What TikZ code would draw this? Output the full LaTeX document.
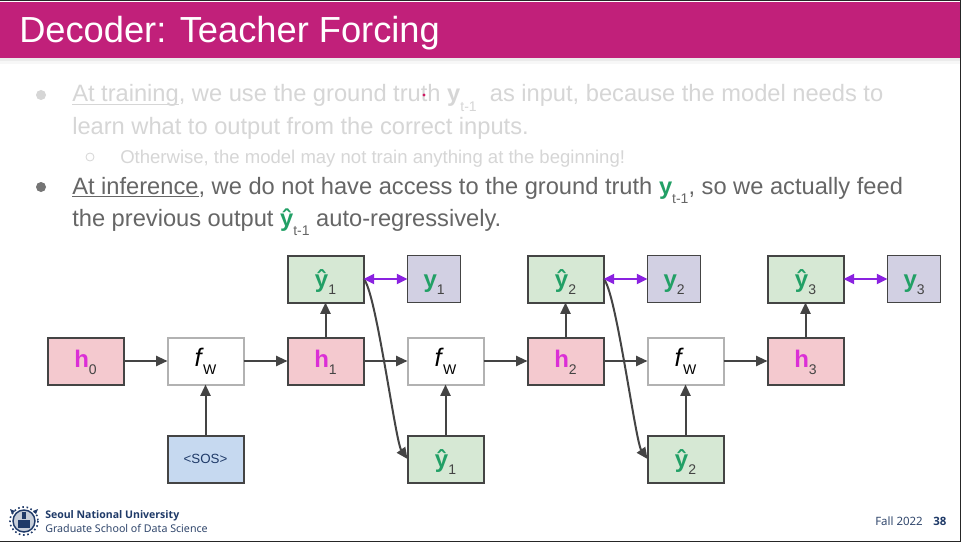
\documentclass[tikz,border=0pt]{standalone}
\usepackage{fontspec}
\setmainfont{Liberation Sans}
\newfontfamily\footfont{Noto Sans}
\newfontfamily\footbold{Open Sans}
\usetikzlibrary{arrows.meta, positioning}

\definecolor{bandcol}{HTML}{C1207A}
\definecolor{fadecol}{HTML}{D6D6D6}
\definecolor{textcol}{HTML}{666666}
\definecolor{linecol}{HTML}{444444}
\definecolor{hcol}{HTML}{DB2FD6}
\definecolor{ycol}{HTML}{22A066}
\definecolor{navycol}{HTML}{1F3A68}
\definecolor{pinkfill}{HTML}{F4C9CF}
\definecolor{greenfill}{HTML}{D6E8D4}
\definecolor{bluefill}{HTML}{C6D9F0}
\definecolor{lilacfill}{HTML}{D2D0E3}
\definecolor{purplecol}{HTML}{8A22E0}

% labels inside the boxes
\newcommand{\sublab}[1]{\raisebox{-5.25pt}{\fontsize{10.5}{10.5}\selectfont\color{linecol}#1}}
\newcommand{\hlab}[1]{{\bfseries\color{hcol}h}\sublab{#1}}
\newcommand{\ylab}[1]{{\bfseries\color{ycol}y}\sublab{#1}}
\newcommand{\yhlab}[1]{{\bfseries\color{ycol}ŷ}\sublab{#1}}
\newcommand{\fwlab}{{\fontsize{19}{19}\selectfont\itshape f}\hspace{1pt}\raisebox{-6.5pt}{\fontsize{10.5}{10.5}\selectfont W}}
\newcommand{\tsub}[1]{\raisebox{-0.42em}{\fontsize{10.5}{10.5}\selectfont #1}}

\begin{document}
\begin{tikzpicture}[
  x=0.75pt, y=-0.75pt,
  >=Stealth,
  node distance=26.25pt and 33pt,
  box/.style={draw=linecol, line width=1.5pt, minimum width=57pt, minimum height=35.25pt, inner sep=0pt, outer sep=0pt, font=\fontsize{18}{18}\selectfont},
  hbox/.style={box, fill=pinkfill, text height=11pt, text depth=2pt},
  yhbox/.style={box, fill=greenfill, text height=14pt, text depth=1.2pt},
  fbox/.style={box, draw=gray!60, fill=white, text height=11pt, text depth=3.5pt},
  sosbox/.style={box, fill=bluefill, text=navycol, font=\fontsize{10}{10}\selectfont},
  ybox/.style={box, line width=0.9pt, minimum width=40pt, fill=lilacfill, text height=14pt, text depth=1.2pt},
  flow/.style={-{Triangle[length=8.5pt,width=7.5pt]}, draw=linecol, line width=1.5pt},
  match/.style={{Triangle[length=8pt,width=7.5pt]}-{Triangle[length=8pt,width=7.5pt]}, draw=purplecol, line width=1.5pt},
  txtline/.style={anchor=base west, inner sep=0pt, font=\fontsize{17.75}{17.75}\selectfont},
  bull/.style={circle, inner sep=0pt, minimum size=7.5pt},
]
  \useasboundingbox (0,0) rectangle (961,542);
  \fill[white] (0,0) rectangle (961,542);

  % title band and frame
  \fill[black!8] (0,58) rectangle (961,61);
  \fill[black!3] (0,61) rectangle (961,64);
  \fill[bandcol] (0,2) rectangle (961,58);
  \fill[black!85] (0,0) rectangle (961,1.5);
  \fill[black!85] (0,540.5) rectangle (961,542);
  \fill[black!85] (960,0) rectangle (961,542);
  \node[anchor=base west, inner sep=0pt, text=white, font=\fontsize{27.2}{28}\selectfont] (title) at (19,43) {Decoder: Teacher Forcing};

  % bullets
  \node[bull, fill=fadecol] (b1) at (41,95) {};
  \node[txtline, text=fadecol] (l1) at (72,102) {\underline{\smash{At training}}, we use the ground truth \textbf{y}\tsub{t-1}\ \ as input, because the model needs to};
  \node[txtline, text=fadecol] (l2) at (72,135) {learn what to output from the correct inputs.};
  \node[bull, draw=fadecol, minimum size=6pt, line width=0.6pt] (b2) at (90,157) {};
  \node[txtline, text=fadecol, font=\fontsize{13.9}{14}\selectfont] (l3) at (120,163) {Otherwise, the model may not train anything at the beginning!};
  \node[bull, fill=textcol!90!white] (b3) at (41,187) {};
  \node[txtline, text=textcol] (l4) at (72,194) {\underline{\smash{At inference}}, we do not have access to the ground truth {\color{ycol}\textbf{y}}\tsub{t-1}, so we actually feed};
  \node[txtline, text=textcol] (l5) at (72,226) {the previous output {\color{ycol}\textbf{ŷ}}\tsub{t-1}\ auto-regressively.};
  \fill[bandcol!80!red] (424,95) circle (1.6) coordinate (dot);

  % middle row
  \node[hbox] (h0) at (85.5,361) {\hlab{0}};
  \node[fbox, right=of h0] (f1) {\fwlab};
  \node[hbox, right=of f1] (h1) {\hlab{1}};
  \node[fbox, right=of h1] (f2) {\fwlab};
  \node[hbox, right=of f2] (h2) {\hlab{2}};
  \node[fbox, right=of h2] (f3) {\fwlab};
  \node[hbox, right=of f3] (h3) {\hlab{3}};

  % outputs and targets
  \node[yhbox, above=of h1] (yh1) {\yhlab{1}};
  \node[yhbox, above=of h2] (yh2) {\yhlab{2}};
  \node[yhbox, above=of h3] (yh3) {\yhlab{3}};
  \node[ybox, right=of yh1] (y1) {\ylab{1}};
  \node[ybox, right=of yh2] (y2) {\ylab{2}};
  \node[ybox, right=of yh3] (y3) {\ylab{3}};

  % inputs
  \node[sosbox, below=38.25pt of f1] (sos) {<SOS>};
  \node[yhbox, below=38.25pt of f2] (in1) {\yhlab{1}};
  \node[yhbox, below=38.25pt of f3] (in2) {\yhlab{2}};

  \draw[flow] (h0) -- (f1);
  \draw[flow] (f1) -- (h1);
  \draw[flow] (h1) -- (f2);
  \draw[flow] (f2) -- (h2);
  \draw[flow] (h2) -- (f3);
  \draw[flow] (f3) -- (h3);
  \draw[flow] (h1) -- (yh1);
  \draw[flow] (h2) -- (yh2);
  \draw[flow] (h3) -- (yh3);
  \draw[flow] (sos) -- (f1);
  \draw[flow] (in1) -- (f2);
  \draw[flow] (in2) -- (f3);

  \draw[flow] (yh1.east) .. controls +(12,9) and +(-12,-17) .. (in1.west);
  \draw[flow] (yh2.east) .. controls +(12,9) and +(-12,-17) .. (in2.west);
  \draw[match] (yh1) -- (y1);
  \draw[match] (yh2) -- (y2);
  \draw[match] (yh3) -- (y3);

  % footer
  \draw[navycol, line width=1.1pt, fill=navycol!25] (24,521) circle (11) coordinate (seal);
  \draw[navycol, line width=1.2pt, dotted] (24,521) circle (14);
  \fill[navycol] (18,520) rectangle (30,528);
  \fill[navycol] (22,512) rectangle (26,519);
  \fill[navycol] (10,509) -- (15,511) -- (12,514) -- cycle;
  \fill[navycol] (38,509) -- (33,511) -- (36,514) -- cycle;
  \node[anchor=base west, inner sep=0pt, text=navycol, font=\footbold\bfseries\fontsize{7.9}{8}\selectfont] (snu) at (45,518) {Seoul National University};
  \node[anchor=base west, inner sep=0pt, text=navycol!80!gray, font=\footfont\fontsize{8}{8}\selectfont] (gsds) at (45,532) {Graduate School of Data Science};
  \node[anchor=base west, inner sep=0pt, text=navycol!80!gray, font=\footfont\fontsize{8.6}{9}\selectfont] (fall) at (875,525) {Fall 2022};
  \node[anchor=base west, inner sep=0pt, text=navycol, font=\footbold\bfseries\fontsize{8.6}{9}\selectfont] (page) at (933,525) {38};
\end{tikzpicture}
\end{document}
